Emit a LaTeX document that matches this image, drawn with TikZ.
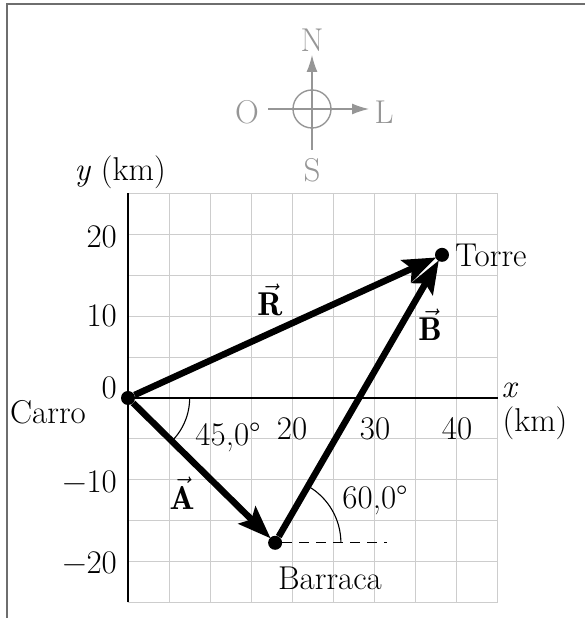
\RequirePackage{fix-cm}
\documentclass[tikz,border=0pt]{standalone}
\usepackage{fontspec}
\usetikzlibrary{arrows.meta}
\definecolor{gridc}{RGB}{205,205,205}
\definecolor{compc}{RGB}{150,150,150}
\definecolor{framec}{RGB}{110,110,110}
\tikzset{
  lbl/.style={font=\fontsize{33}{38}\selectfont, inner sep=0pt},
  cmp/.style={lbl, text=compc},
  dot/.style={circle, fill=black, inner sep=0pt, minimum size=14pt},
  vec/.style={line width=6.5pt, -{Stealth[length=33pt,width=24pt,inset=6pt]}, shorten >=-1pt},
  anglearc/.style={line width=1.1pt},
  ctip/.style={-{Latex[length=17pt,width=11pt]}},
}
\begin{document}
\begin{tikzpicture}[x=1pt,y=1pt]
\useasboundingbox (0,0) rectangle (585,618);
% frame
\draw[framec, line width=1.6pt] (7,0) -- (7,614) -- (585,614);
% compass
\coordinate (cc) at (312,509);
\coordinate (ctop) at (312,563);
\coordinate (cbot) at (312,468);
\coordinate (cleft) at (268,509);
\coordinate (cright) at (369,509);
\draw[compc, line width=1.4pt] (cc) circle[radius=19];
\draw[compc, line width=1.4pt, ctip] (cbot) -- (ctop);
\draw[compc, line width=1.4pt, ctip] (cleft) -- (cright);
\node[cmp] (N) at (312,578) {N};
\node[cmp] (S) at (312,448) {S};
\node[cmp] (O) at (247,506) {O};
\node[cmp] (L) at (384,506) {L};
% plot
\begin{scope}[shift={(128,220)}, x=8.22pt, y=8.18pt]
  \draw[gridc, line width=1pt] (0,-25) grid[step=5] (45,25);
  \draw[line width=2.6pt] (0,0) -- (45,0);
  \draw[line width=2.6pt] (0,-25) -- (0,25);
  \node[dot] (Carro) at (0,0) {};
  \node[dot] (Barraca) at (17.9,-17.7) {};
  \node[dot] (Torre) at (38.2,17.5) {};
  \coordinate (dashend) at (31.5,-17.7);
  \draw[anglearc] (7.5,0) arc[start angle=0, end angle=-45, radius=7.5];
  \draw[anglearc] (Barraca.center) ++(8,0) arc[start angle=0, end angle=60, radius=8];
  \draw[line width=1.1pt, dash pattern=on 10pt off 7pt] (Barraca) -- (dashend);
  \draw[vec] (Carro) -- (Barraca);
  \draw[vec] (Barraca) -- (Torre);
  \draw[vec] (Carro) -- (Torre);
\end{scope}
% labels
\node[lbl] (lcarro) at (48,206) {Carro};
\node[lbl, anchor=west] (ltorre) at (455,363) {Torre};
\node[lbl] (lbarraca) at (330,40) {Barraca};
\node[lbl] (l45) at (228,181) {45,0°};
\node[lbl] (l60) at (375,118) {60,0°};
\node[lbl] (lR) at (270,318) {$\vec{\mathbf{R}}$};
\node[lbl] (lA) at (182,125) {$\vec{\mathbf{A}}$};
\node[lbl] (lB) at (430,293) {$\vec{\mathbf{B}}$};
\node[lbl] (ly) at (120,446) {\textit{y} (km)};
\node[lbl] (lx) at (510,228) {\textit{x}};
\node[lbl] (lkm) at (535,195) {(km)};
% tick labels
\node[lbl, anchor=east] (t20) at (117,381) {20};
\node[lbl, anchor=east] (t10) at (117,302) {10};
\node[lbl, anchor=east] (t0) at (117,230) {0};
\node[lbl, anchor=east] (tm10) at (117,136) {−10};
\node[lbl, anchor=east] (tm20) at (117,55) {−20};
\node[lbl] (x20) at (292,189) {20};
\node[lbl] (x30) at (375,189) {30};
\node[lbl] (x40) at (457,189) {40};
\end{tikzpicture}
\end{document}
